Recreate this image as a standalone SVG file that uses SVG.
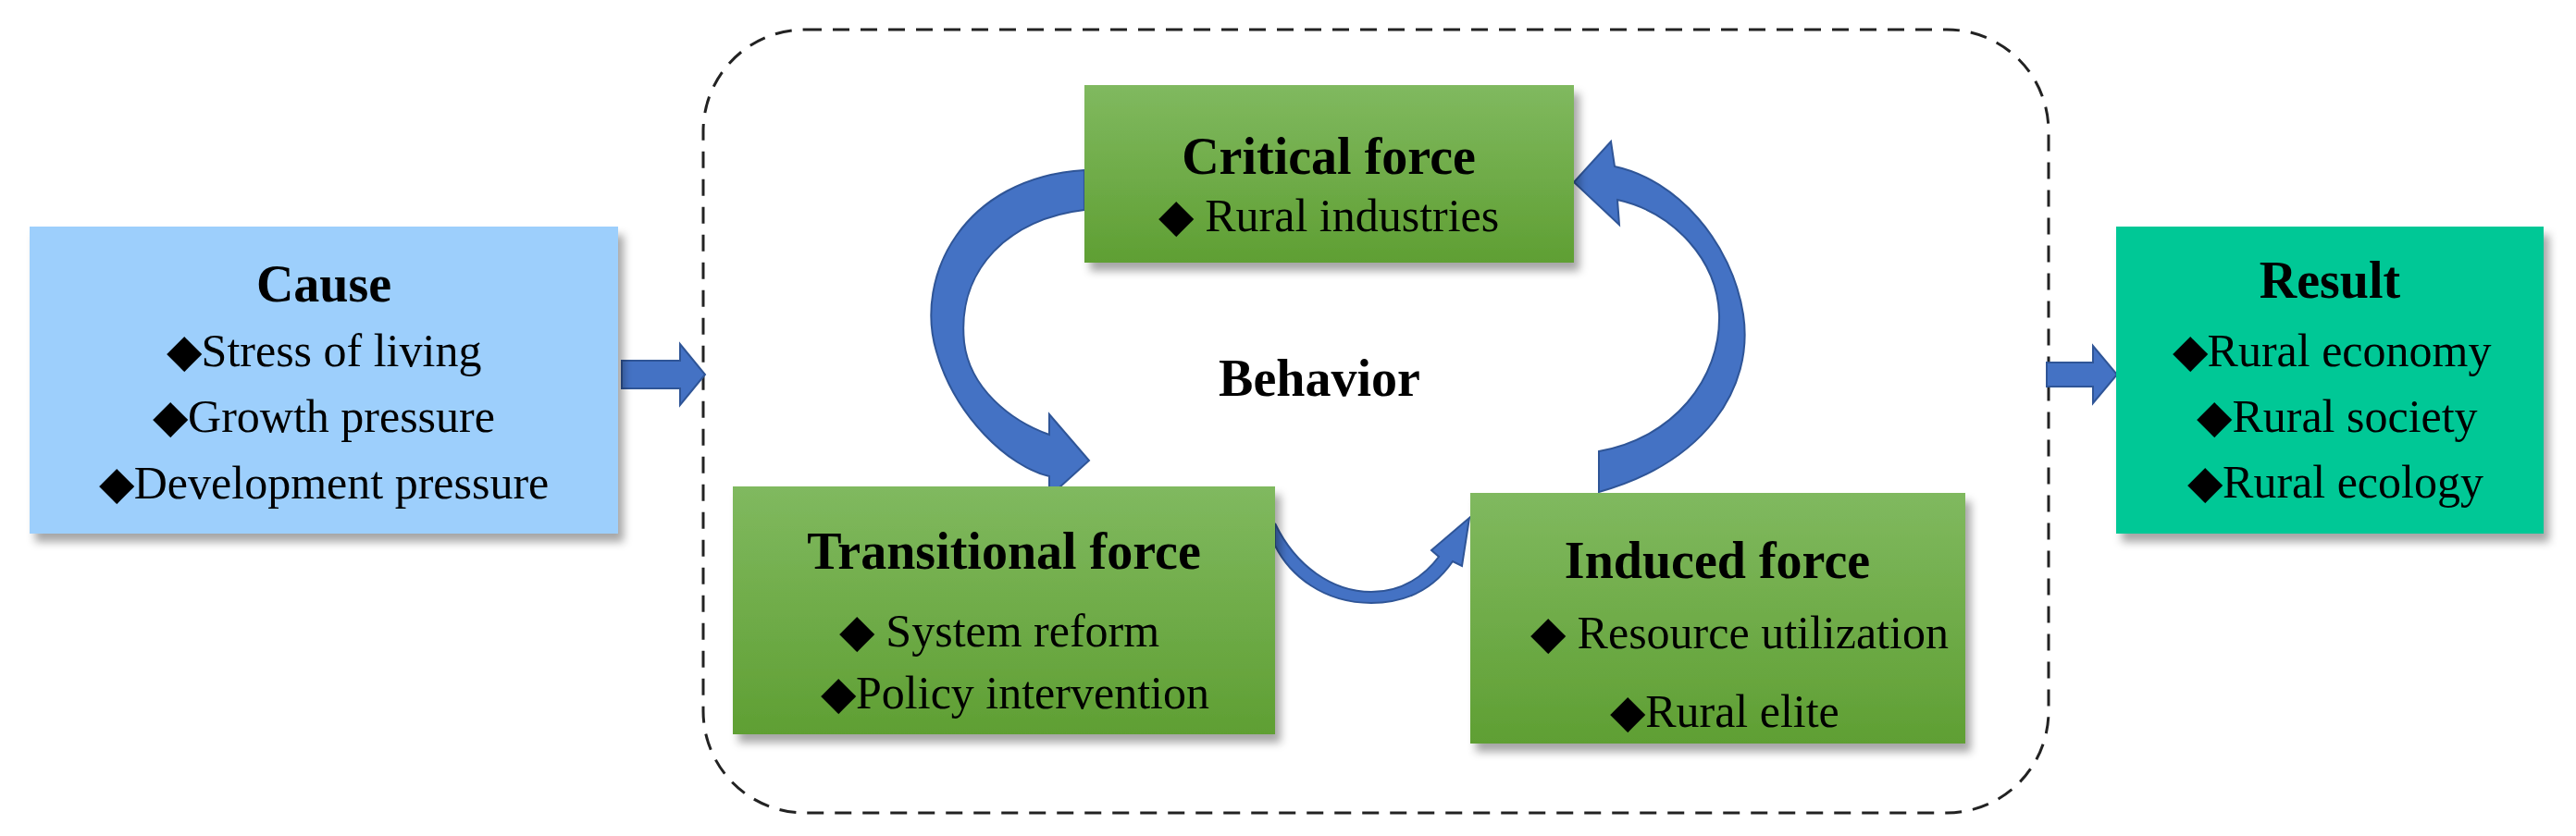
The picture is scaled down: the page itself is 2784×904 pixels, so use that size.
<svg xmlns="http://www.w3.org/2000/svg" width="2784" height="904" viewBox="0 0 2784 904">
<style>
.t{font-family:"Liberation Serif","Times New Roman",serif;font-weight:bold;font-size:56px;fill:#000;text-anchor:middle}
.b{font-family:"Liberation Serif","Times New Roman",serif;font-size:50px;fill:#000;text-anchor:middle}
.arr{fill:#4472c4;stroke:#2f5597;stroke-width:2}
</style>
<defs>
<linearGradient id="g" x1="0" y1="0" x2="0" y2="1"><stop offset="0" stop-color="#80b95f"/><stop offset="1" stop-color="#5f9f33"/></linearGradient>
<filter id="sh" x="-10%" y="-10%" width="125%" height="130%"><feDropShadow dx="6" dy="9" stdDeviation="5" flood-color="#000" flood-opacity="0.35"/></filter>
</defs>
<rect width="2784" height="904" fill="#fff"/>
<rect id="behavior-frame" x="760" y="32" width="1454" height="847" rx="110" fill="none" stroke="#222" stroke-width="3" stroke-dasharray="18,12"/>
<g id="connectors">
<path class="arr" d="M672,390 L735,390 L735,372 L762,405 L735,438 L735,420 L672,420 Z"/>
<path class="arr" d="M2212,392 L2262,392 L2262,374 L2288,405 L2262,436 L2262,418 L2212,418 Z"/>
<path class="arr" d="M1172,184 C1040,192 988,300 1012,380 C1032,450 1090,505 1134,515 L1134,537 L1177,498 L1134,448 L1134,470 C1092,455 1048,420 1042,370 C1034,290 1092,236 1172,227 Z"/>
<path class="arr" d="M1378,566 C1400,612 1440,640 1482,640 C1516,640 1540,622 1555,602 L1547,595 L1588,560 L1580,612 L1570,607 C1550,636 1520,652 1482,652 C1430,652 1394,622 1378,590 Z"/>
<path class="arr" d="M1728,532 C1842,500 1896,420 1884,340 C1872,262 1812,194 1745,180 L1741,153 L1701,197 L1750,243 L1748,216 C1810,230 1856,282 1858,340 C1860,410 1808,474 1728,488 Z"/>
</g>
<g id="cause">
<rect x="32" y="245" width="636" height="332" fill="#9dcffc" filter="url(#sh)"/>
<text class="t" x="350" y="326">Cause</text>
<text class="b" x="350" y="396">◆Stress of living</text>
<text class="b" x="350" y="467">◆Growth pressure</text>
<text class="b" x="350" y="539">◆Development pressure</text>
</g>
<g id="critical">
<rect x="1172" y="92" width="529" height="192" fill="url(#g)" filter="url(#sh)"/>
<text class="t" x="1436" y="188">Critical force</text>
<text class="b" x="1436" y="250">◆  Rural industries</text>
</g>
<text id="behavior" class="t" x="1426" y="428" font-size="52">Behavior</text>
<g id="transitional">
<rect x="792" y="526" width="586" height="268" fill="url(#g)" filter="url(#sh)"/>
<text class="t" x="1085" y="615">Transitional force</text>
<text class="b" x="1080" y="699">◆  System reform</text>
<text class="b" x="1097" y="766">◆Policy intervention</text>
</g>
<g id="induced">
<rect x="1589" y="533" width="535" height="271" fill="url(#g)" filter="url(#sh)"/>
<text class="t" x="1856" y="625">Induced force</text>
<text class="b" x="1880" y="701">◆ Resource utilization</text>
<text class="b" x="1864" y="786">◆Rural elite</text>
</g>
<g id="result">
<rect x="2287" y="245" width="462" height="332" fill="#00c896" filter="url(#sh)"/>
<text class="t" x="2518" y="322">Result</text>
<text class="b" x="2520" y="396">◆Rural economy</text>
<text class="b" x="2526" y="467">◆Rural society</text>
<text class="b" x="2524" y="538">◆Rural ecology</text>
</g>
</svg>
